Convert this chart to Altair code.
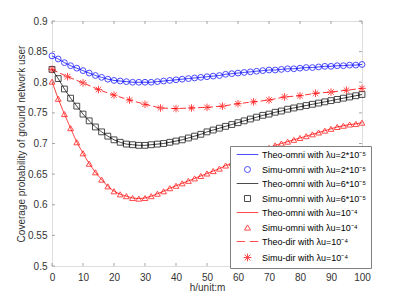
import altair as alt
import pandas as pd

# ---------------- data ----------------
h_omni = list(range(0, 101, 2))
h_dir = list(range(0, 101, 5))

simu_omni_2e5 = [0.843, 0.838, 0.832, 0.827, 0.823, 0.819, 0.815, 0.811, 0.808, 0.805, 0.803,
                 0.802, 0.801, 0.800, 0.800, 0.800, 0.800, 0.801, 0.802, 0.803, 0.804,
                 0.805, 0.806, 0.807, 0.808, 0.809, 0.810, 0.811, 0.813, 0.814, 0.815,
                 0.816, 0.817, 0.818, 0.819, 0.820, 0.820, 0.821, 0.822, 0.822, 0.823,
                 0.824, 0.824, 0.825, 0.826, 0.826, 0.827, 0.827, 0.828, 0.828, 0.829]
simu_omni_6e5 = [0.821, 0.806, 0.789, 0.774, 0.761, 0.748, 0.737, 0.727, 0.719, 0.712, 0.706,
                 0.702, 0.699, 0.698, 0.697, 0.697, 0.698, 0.699, 0.700, 0.702, 0.704,
                 0.706, 0.709, 0.712, 0.715, 0.719, 0.722, 0.725, 0.728, 0.731, 0.734,
                 0.737, 0.740, 0.743, 0.746, 0.748, 0.751, 0.753, 0.756, 0.758, 0.760,
                 0.762, 0.764, 0.766, 0.768, 0.770, 0.772, 0.774, 0.776, 0.778, 0.780]
simu_omni_1e4 = [0.801, 0.773, 0.748, 0.725, 0.702, 0.684, 0.667, 0.653, 0.641, 0.630, 0.622,
                 0.617, 0.614, 0.611, 0.610, 0.611, 0.614, 0.618, 0.622, 0.627, 0.631,
                 0.635, 0.639, 0.643, 0.647, 0.651, 0.655, 0.659, 0.664, 0.668, 0.672,
                 0.676, 0.681, 0.685, 0.689, 0.693, 0.697, 0.700, 0.703, 0.706, 0.709,
                 0.712, 0.715, 0.718, 0.721, 0.724, 0.727, 0.729, 0.731, 0.732, 0.734]
simu_dir_1e4 = [0.821, 0.809, 0.799, 0.788, 0.779, 0.771, 0.764, 0.758, 0.757, 0.758, 0.759,
                0.761, 0.765, 0.768, 0.771, 0.776, 0.778, 0.782, 0.784, 0.787, 0.790]

theo_omni_2e5 = simu_omni_2e5
theo_omni_6e5 = simu_omni_6e5
theo_omni_1e4 = simu_omni_1e4
theo_dir_1e4 = simu_dir_1e4

labels = [
    "Theo-omni with \u03bbu=2*10\u207b\u2075",
    "Simu-omni with \u03bbu=2*10\u207b\u2075",
    "Theo-omni with \u03bbu=6*10\u207b\u2075",
    "Simu-omni with \u03bbu=6*10\u207b\u2075",
    "Theo-omni with \u03bbu=10\u207b\u2074",
    "Simu-omni with \u03bbu=10\u207b\u2074",
    "Theo-dir with \u03bbu=10\u207b\u2074",
    "Simu-dir with \u03bbu=10\u207b\u2074",
]
colors = ["#0000ff", "#0000ff", "#000000", "#000000",
          "#ff0000", "#ff0000", "#ff0000", "#ff0000"]
line_path = "M-3.6,0L3.6,0"
dash_path = "M-3.6,0L-0.8,0M0.8,0L3.6,0"
star_path = "M-1.3,0L1.3,0M0,-1.3L0,1.3M-0.95,-0.95L0.95,0.95M-0.95,0.95L0.95,-0.95"
shapes = [line_path, "circle", line_path, "square",
          line_path, "triangle-up", dash_path, star_path]

x_ticks = list(range(0, 101, 10))
y_ticks = [0.5, 0.55, 0.6, 0.65, 0.7, 0.75, 0.8, 0.85, 0.9]

# ---------------- frames ----------------
simu = pd.concat([
    pd.DataFrame({"h": h_omni, "p": simu_omni_2e5, "series": labels[1]}),
    pd.DataFrame({"h": h_omni, "p": simu_omni_6e5, "series": labels[3]}),
    pd.DataFrame({"h": h_omni, "p": simu_omni_1e4, "series": labels[5]}),
    pd.DataFrame({"h": h_dir, "p": simu_dir_1e4, "series": labels[7]}),
])
theo_frames = [
    (pd.DataFrame({"h": h_omni, "p": theo_omni_2e5}), "#0000ff", [1, 0]),
    (pd.DataFrame({"h": h_omni, "p": theo_omni_6e5}), "#000000", [1, 0]),
    (pd.DataFrame({"h": h_omni, "p": theo_omni_1e4}), "#ff0000", [1, 0]),
    (pd.DataFrame({"h": h_dir, "p": theo_dir_1e4}), "#ff0000", [6, 3]),
]

W, H = 310, 245
FONT = "Liberation Sans"
GREY = "#808080"
TXT = "#333333"

xs = alt.Scale(domain=[0, 100], nice=False)
ys = alt.Scale(domain=[0.5, 0.9], nice=False)

x_axis = alt.Axis(values=x_ticks, title="h/unit:m", grid=False, ticks=False, domain=False,
                  labelFont=FONT, labelFontSize=10, labelColor=TXT, labelPadding=6,
                  labelFlush=False,
                  titleFont=FONT, titleFontSize=10, titleFontWeight="normal",
                  titleColor=TXT, titlePadding=0)
y_axis = alt.Axis(values=y_ticks, format=".2~f", grid=False, ticks=False, domain=False,
                  title="Coverage probability of ground network user",
                  labelFont=FONT, labelFontSize=10, labelColor=TXT, labelPadding=5,
                  labelFlush=False,
                  titleFont=FONT, titleFontSize=10, titleFontWeight="normal",
                  titleColor=TXT, titlePadding=1)


def X(field):
    return alt.X(field, scale=xs, axis=x_axis)


def Y(field):
    return alt.Y(field, scale=ys, axis=y_axis)


layers = []
for df, col, dash in theo_frames:
    layers.append(alt.Chart(df).mark_line(color=col, strokeWidth=0.8, strokeDash=dash)
                  .encode(x=X("h:Q"), y=Y("p:Q")))

legend = alt.Legend(title=None, orient="none", legendX=178, legendY=125,
                    fillColor="white", strokeColor=GREY, padding=4,
                    labelFont=FONT, labelFontSize=9, labelColor="#000000",
                    symbolSize=36, symbolStrokeWidth=1, symbolOffset=9,
                    labelOffset=10, rowPadding=4)

points = alt.Chart(simu).mark_point(filled=False, strokeWidth=1, size=34).encode(
    x=X("h:Q"),
    y=Y("p:Q"),
    color=alt.Color("series:N", scale=alt.Scale(domain=labels, range=colors), legend=legend),
    shape=alt.Shape("series:N", scale=alt.Scale(domain=labels, range=shapes), legend=legend),
)
layers.append(points)

# inward box ticks
xt = pd.DataFrame({"h": x_ticks})
yt = pd.DataFrame({"p": y_ticks})
tick_style = dict(color=GREY, thickness=1, size=3)
layers.append(alt.Chart(xt).mark_tick(orient="vertical", **tick_style).encode(
    x=X("h:Q"), y=alt.value(H - 1.5)))
layers.append(alt.Chart(xt).mark_tick(orient="vertical", **tick_style).encode(
    x=X("h:Q"), y=alt.value(1.5)))
layers.append(alt.Chart(yt).mark_tick(orient="horizontal", **tick_style).encode(
    y=Y("p:Q"), x=alt.value(1.5)))
layers.append(alt.Chart(yt).mark_tick(orient="horizontal", **tick_style).encode(
    y=Y("p:Q"), x=alt.value(W - 1.5)))

chart = alt.layer(*layers).properties(
    width=W, height=H,
    autosize=alt.AutoSizeParams(type="none"),
    padding={"left": 44, "top": 13, "right": 20, "bottom": 25},
).configure_view(stroke=GREY, strokeWidth=1).configure(background="white")

chart.save("out.html", embed_options={"renderer": "svg", "actions": False})
